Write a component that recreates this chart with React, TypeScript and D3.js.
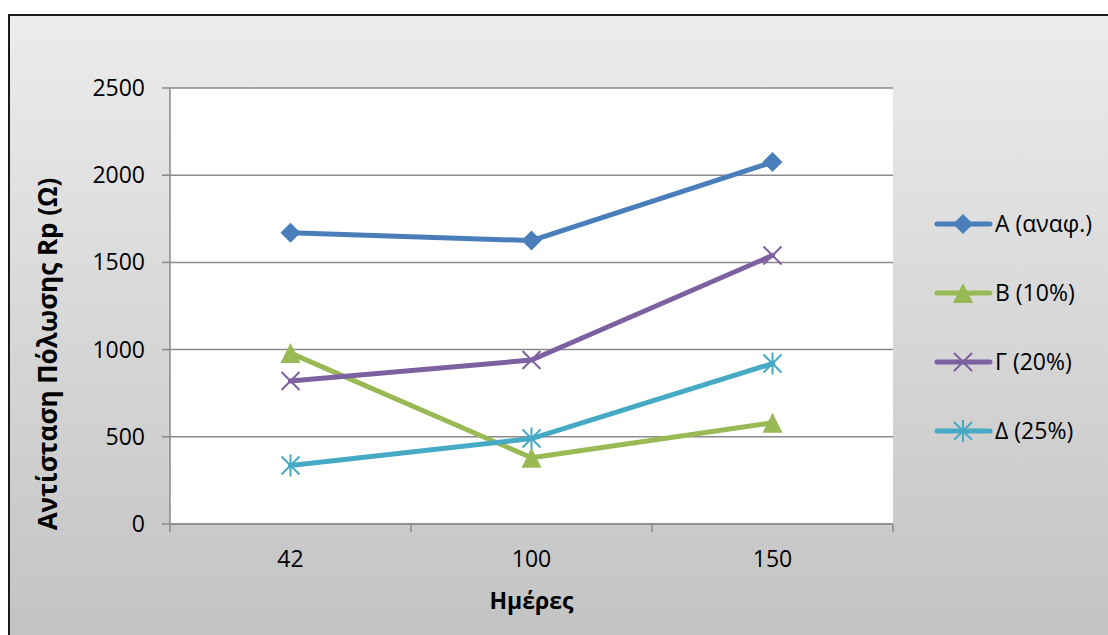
import React from "react";
import * as d3 from "d3";

// Polarization resistance Rp (Ω) per sample over time (days)
const days = ["42", "100", "150"];
const seriesNames = ["Α (αναφ.)", "Β (10%)", "Γ (20%)", "Δ (25%)"];
const valuesA = [1670, 1625, 2075];
const valuesB = [980, 380, 580];
const valuesG = [820, 940, 1540];
const valuesD = [335, 490, 920];
const yTicks = [0, 500, 1000, 1500, 2000, 2500];
const colors = ["#4a7ebb", "#98b954", "#7d60a0", "#46aac5"];
const markerKinds = ["diamond", "triangle", "x", "star"];

const W = 1108;
const H = 635;
const plot = { left: 170, right: 893, top: 88, bottom: 524 };
const FONT = "'Open Sans', 'Noto Sans', sans-serif";

function Marker({ kind, x, y, color }: { kind: string; x: number; y: number; color: string }) {
  const r = 10;
  if (kind === "diamond") {
    return <path d={`M${x},${y - r}L${x + r},${y}L${x},${y + r}L${x - r},${y}Z`} fill={color} />;
  }
  if (kind === "triangle") {
    return <path d={`M${x},${y - r}L${x + r},${y + r}L${x - r},${y + r}Z`} fill={color} />;
  }
  if (kind === "x") {
    const s = 9;
    return (
      <path
        d={`M${x - s},${y - s}L${x + s},${y + s}M${x - s},${y + s}L${x + s},${y - s}`}
        stroke={color}
        strokeWidth={2}
        fill="none"
      />
    );
  }
  const s = 9;
  return (
    <path
      d={`M${x - s},${y - s}L${x + s},${y + s}M${x - s},${y + s}L${x + s},${y - s}M${x},${y - s - 2}L${x},${y + s + 2}`}
      stroke={color}
      strokeWidth={2}
      fill="none"
    />
  );
}

export default function App() {
  const x = d3.scaleBand<string>().domain(days).range([plot.left, plot.right]).padding(0);
  const y = d3.scaleLinear().domain([0, 2500]).range([plot.bottom, plot.top]);
  const cx = (d: string) => (x(d) as number) + x.bandwidth() / 2;

  const series = [valuesA, valuesB, valuesG, valuesD];
  const line = d3
    .line<number>()
    .x((_, i) => cx(days[i]))
    .y((v) => y(v));

  const xBoundaries = [...days.map((d) => x(d) as number), plot.right];
  const legendY = [224, 293, 362, 431];

  return (
    <svg
      width={W}
      height={H}
      style={{ position: "absolute", left: 0, top: 0, display: "block" }}
      fontFamily={FONT}
    >
      <defs>
        <linearGradient id="bg" x1="0" y1="0" x2="0" y2="1">
          <stop offset="0" stopColor="#ececec" />
          <stop offset="1" stopColor="#c2c2c2" />
        </linearGradient>
      </defs>
      <rect x={0} y={0} width={W} height={H} fill="#ffffff" />
      <rect x={9} y={15} width={W} height={H} fill="url(#bg)" stroke="#1a1a1a" strokeWidth={2} />

      {/* plot area */}
      <rect x={plot.left} y={plot.top} width={plot.right - plot.left} height={plot.bottom - plot.top} fill="#ffffff" />

      {/* horizontal gridlines */}
      {yTicks.map((t) => (
        <line key={t} x1={plot.left} x2={plot.right} y1={y(t)} y2={y(t)} stroke="#8a8a8a" strokeWidth={1.5} />
      ))}

      {/* y axis */}
      <line x1={plot.left} x2={plot.left} y1={plot.top} y2={plot.bottom} stroke="#8a8a8a" strokeWidth={1.5} />
      {yTicks.map((t) => (
        <g key={t}>
          <line x1={plot.left - 8} x2={plot.left} y1={y(t)} y2={y(t)} stroke="#8a8a8a" strokeWidth={1.5} />
          <text x={145} y={y(t)} dy="0.35em" textAnchor="end" fontSize={23} fill="#000">
            {t}
          </text>
        </g>
      ))}

      {/* x axis */}
      <line x1={plot.left} x2={plot.right} y1={plot.bottom} y2={plot.bottom} stroke="#8a8a8a" strokeWidth={1.5} />
      {xBoundaries.map((b, i) => (
        <line key={i} x1={b} x2={b} y1={plot.bottom} y2={plot.bottom + 8} stroke="#8a8a8a" strokeWidth={1.5} />
      ))}
      {days.map((d) => (
        <text key={d} x={cx(d)} y={567} textAnchor="middle" fontSize={23} fill="#000">
          {d}
        </text>
      ))}

      {/* axis titles */}
      <text x={(plot.left + plot.right) / 2} y={609} textAnchor="middle" fontSize={23} fontWeight="bold" fill="#000">
        Ημέρες
      </text>
      <text
        transform={`translate(57,354) rotate(-90)`}
        textAnchor="middle"
        fontSize={26}
        fontWeight="bold"
        fill="#000"
      >
        Αντίσταση Πόλωσης Rp (Ω)
      </text>

      {/* series */}
      {series.map((vals, si) => (
        <g key={si}>
          <path d={line(vals) || ""} fill="none" stroke={colors[si]} strokeWidth={5} strokeLinejoin="round" strokeLinecap="round" />
          {vals.map((v, i) => (
            <Marker key={i} kind={markerKinds[si]} x={cx(days[i])} y={y(v)} color={colors[si]} />
          ))}
        </g>
      ))}

      {/* legend */}
      {seriesNames.map((name, si) => (
        <g key={name}>
          <line x1={937} x2={990} y1={legendY[si]} y2={legendY[si]} stroke={colors[si]} strokeWidth={5} strokeLinecap="round" />
          <Marker kind={markerKinds[si]} x={963} y={legendY[si]} color={colors[si]} />
          <text x={995} y={legendY[si]} dy="0.35em" fontSize={23} fill="#000">
            {name}
          </text>
        </g>
      ))}
    </svg>
  );
}
